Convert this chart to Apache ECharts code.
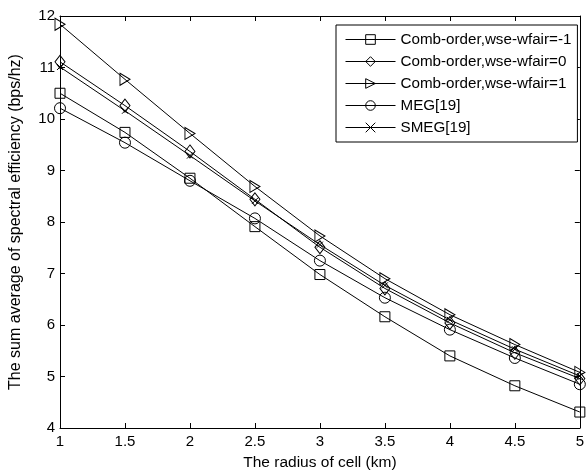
<!DOCTYPE html>
<html>
<head>
<meta charset="utf-8">
<script src="https://cdn.jsdelivr.net/npm/echarts@6/dist/echarts.min.js"></script>
<style>
  html, body { margin: 0; padding: 0; background: #fff; }
  #chart { width: 587px; height: 476px; }
</style>
</head>
<body>
<div id="chart"></div>
<script>
// Cell radius (km)
const radius = [1, 1.5, 2, 2.5, 3, 3.5, 4, 4.5, 5];

// Sum average of spectral efficiency (bps/hz) per scheme
const combMinus1 = [10.50, 9.74, 8.85, 7.91, 6.98, 6.16, 5.40, 4.82, 4.31];
const combZero   = [11.11, 10.26, 9.37, 8.44, 7.51, 6.71, 6.04, 5.46, 4.96];
const combOne    = [11.84, 10.77, 9.72, 8.69, 7.73, 6.90, 6.20, 5.62, 5.08];
const meg        = [10.21, 9.54, 8.80, 8.07, 7.25, 6.53, 5.91, 5.36, 4.85];
const smeg       = [11.01, 10.16, 9.29, 8.41, 7.56, 6.77, 6.10, 5.53, 5.01];

const seriesNames = [
  'Comb-order,wse-wfair=-1',
  'Comb-order,wse-wfair=0',
  'Comb-order,wse-wfair=1',
  'MEG[19]',
  'SMEG[19]'
];

const FONT = 'Liberation Sans, Arial, sans-serif';
const INK = '#000';

const markers = [
  { symbol: 'rect', size: 10 },
  { symbol: 'diamond', size: [10, 13] },
  { symbol: 'path://M0,0L1,0.5L0,1Z', size: [10, 12] },
  { symbol: 'circle', size: 11 },
  { symbol: 'path://M0,0L1,1M1,0L0,1', size: 6 }
];

const values = [combMinus1, combZero, combOne, meg, smeg];

const series = values.map((ys, i) => ({
  name: seriesNames[i],
  type: 'line',
  data: radius.map((x, k) => [x, ys[k]]),
  symbol: markers[i].symbol,
  symbolSize: markers[i].size,
  showAllSymbol: true,
  lineStyle: { color: INK, width: 1 },
  itemStyle: { color: 'rgba(0,0,0,0)', borderColor: INK, borderWidth: 1 },
  emphasis: { disabled: true },
  animation: false
}));

const commonAxisLine = { show: true, onZero: false, lineStyle: { color: INK, width: 1 } };
const commonTick = { show: true, inside: true, length: 5, lineStyle: { color: INK } };

const chart = echarts.init(document.getElementById('chart'), null, { renderer: 'canvas' });
chart.setOption({
  backgroundColor: '#fff',
  animation: false,
  grid: { left: 58, right: 1, top: 16, bottom: 43, containLabel: false },
  legend: {
    orient: 'vertical',
    left: 336,
    top: 25,
    backgroundColor: '#fff',
    borderColor: INK,
    borderWidth: 1,
    borderRadius: 0,
    padding: [7, 6, 7, 9],
    itemGap: 7,
    itemWidth: 50,
    itemHeight: 12,
    lineStyle: { width: 1, color: INK },
    itemStyle: { color: 'rgba(0,0,0,0)', borderColor: INK, borderWidth: 1 },
    textStyle: { color: INK, fontSize: 15.2, fontFamily: FONT, lineHeight: 15 },
    data: seriesNames
  },
  xAxis: [
    {
      type: 'value', min: 1, max: 5, interval: 0.5, position: 'bottom',
      name: 'The radius of cell (km)', nameLocation: 'middle', nameGap: 27,
      nameTextStyle: { color: INK, fontSize: 15.5, fontFamily: FONT },
      axisLine: commonAxisLine, axisTick: commonTick,
      axisLabel: { color: INK, fontSize: 15, fontFamily: FONT, margin: 6 },
      splitLine: { show: false }
    },
    {
      type: 'value', min: 1, max: 5, interval: 0.5, position: 'top',
      axisLine: commonAxisLine, axisTick: commonTick,
      axisLabel: { show: false }, splitLine: { show: false }
    }
  ],
  yAxis: [
    {
      type: 'value', min: 4, max: 12, interval: 1, position: 'left',
      name: 'The sum average of spectral efficiency (bps/hz)', nameLocation: 'middle', nameGap: 36,
      nameTextStyle: { color: INK, fontSize: 16, fontFamily: FONT },
      axisLine: commonAxisLine, axisTick: commonTick,
      axisLabel: { color: INK, fontSize: 15, fontFamily: FONT, margin: 5 },
      splitLine: { show: false }
    },
    {
      type: 'value', min: 4, max: 12, interval: 1, position: 'right',
      axisLine: commonAxisLine, axisTick: commonTick,
      axisLabel: { show: false }, splitLine: { show: false }
    }
  ],
  series: series
});
</script>
</body>
</html>
